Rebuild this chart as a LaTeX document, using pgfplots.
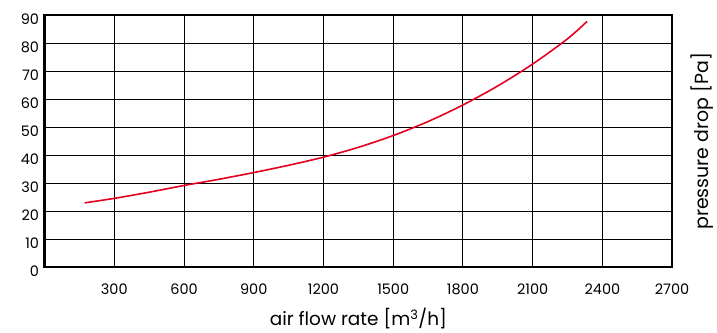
\documentclass[border=0pt]{standalone}
\usepackage{fontspec}
\setmainfont{Poppins}
\usepackage{pgfplots}
\pgfplotsset{compat=1.18}
\definecolor{curvered}{RGB}{228,0,30}
\begin{document}
\begin{tikzpicture}
\begin{axis}[
  scale only axis,
  width=629pt, height=253pt,
  xmin=0, xmax=2700, ymin=0, ymax=90,
  xtick={300,600,...,2700},
  ytick={0,10,...,90},
  grid=major,
  major grid style={black, line width=1pt},
  axis line style={black, line width=2.2pt},
  tick style={draw=none},
  major tick length=0pt,
  clip=false,
  /pgf/number format/assume math mode=true,
  /pgf/number format/1000 sep={},
  ticklabel style={font=\fontsize{14.5}{17}\selectfont},
  xticklabel style={yshift=-13pt},
  yticklabel style={yshift=-4pt, xshift=-2pt},
  xlabel={air flow rate [m\textsuperscript{3}/h]},
  xlabel style={font=\fontsize{18.5}{22}\selectfont, yshift=-7pt},
  ylabel={pressure drop [Pa]},
  ylabel style={font=\fontsize{19}{23}\selectfont, at={(axis description cs:1.024,0.5)}, anchor=north},
]
\addplot[curvered, line width=1.6pt, smooth] coordinates {
(172,23.0) (300,24.6) (450,26.8) (600,29.2) (750,31.4) (900,33.8) (1050,36.4) (1200,39.3) (1350,42.8) (1500,47.0) (1650,52.0) (1800,57.9) (1950,64.7) (2100,72.5) (2250,81.5) (2334,87.7)
};
\end{axis}
\pgfresetboundingbox
\path[use as bounding box] (current axis.south west) ++(-44.7pt,-65pt) rectangle ([xshift=45pt,yshift=15pt]current axis.north east);
\end{tikzpicture}
\end{document}
